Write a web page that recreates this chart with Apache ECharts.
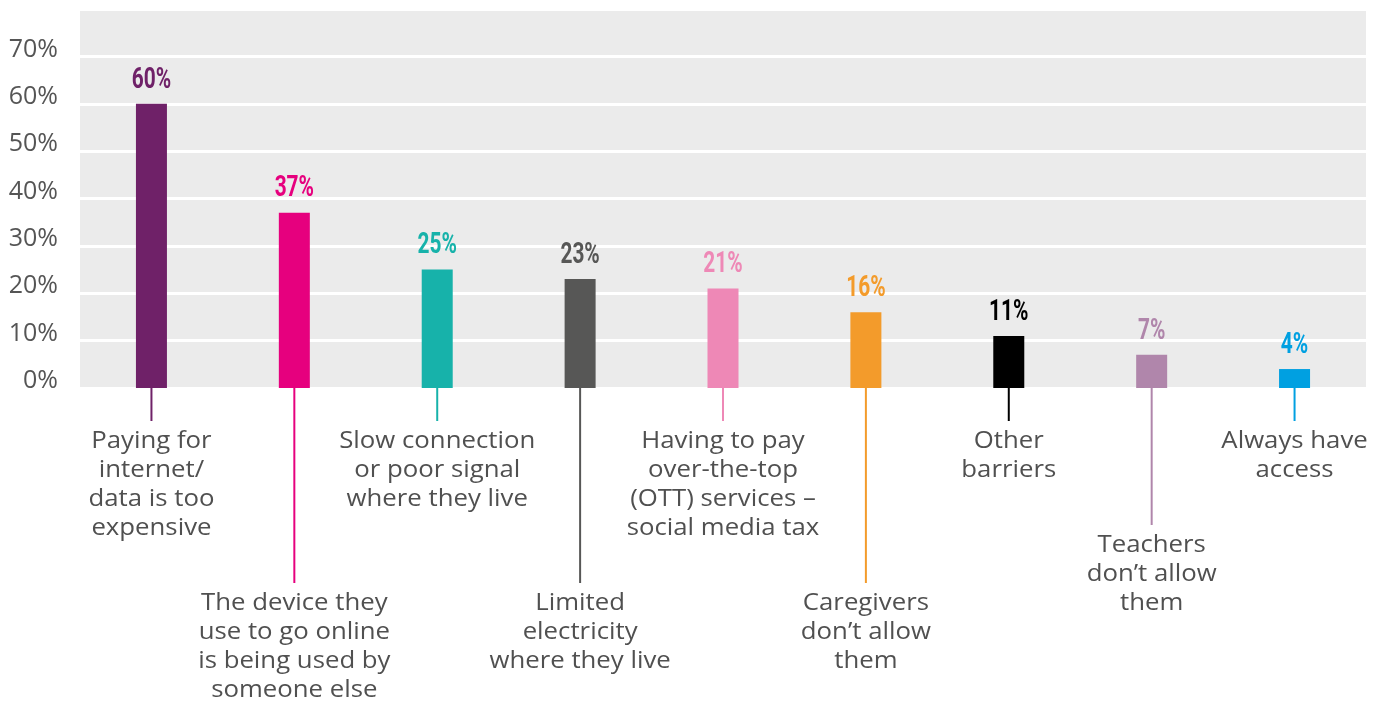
<!DOCTYPE html>
<html>
<head>
<meta charset="utf-8">
<title>Barriers to internet access</title>
<script src="https://cdn.jsdelivr.net/npm/echarts@6/dist/echarts.min.js"></script>
<style>
  html, body { margin: 0; padding: 0; background: #ffffff; }
  #chart { width: 1386px; height: 702px; }
</style>
</head>
<body>
<div id="chart"></div>
<script>
// data
const categories = [
  "Paying for\ninternet/\ndata is too\nexpensive",
  "The device they\nuse to go online\nis being used by\nsomeone else",
  "Slow connection\nor poor signal\nwhere they live",
  "Limited\nelectricity\nwhere they live",
  "Having to pay\nover-the-top\n(OTT) services –\nsocial media tax",
  "Caregivers\ndon’t allow\nthem",
  "Other\nbarriers",
  "Teachers\ndon’t allow\nthem",
  "Always have\naccess",
];
const values = [60, 37, 25, 23, 21, 16, 11, 7, 4];
const yTicks = [0, 10, 20, 30, 40, 50, 60, 70];

// style
const colors = ["#6f2168", "#e6007e", "#17b2aa", "#575756", "#ee88b6", "#f39b2b", "#000000", "#b086ab", "#00a0e1"];
const leaderLengths = [33, 195, 33, 195, 33, 195, 33, 137, 33];
const textFont = "'Open Sans', 'Noto Sans', sans-serif";

const chart = echarts.init(document.getElementById("chart"));

chart.setOption({
  animation: false,
  grid: {
    left: 80,
    right: 20,
    top: 9,
    bottom: 314,
    show: true,
    backgroundColor: "#ebebeb",
    borderWidth: 0,
  },
  xAxis: {
    type: "category",
    data: categories,
    axisLine: { show: false },
    axisTick: { show: false },
    axisLabel: { show: false },
  },
  yAxis: {
    type: "value",
    min: 0,
    max: 80,
    interval: 10,
    axisLine: { show: false },
    axisTick: { show: false },
    splitLine: { lineStyle: { color: "#ffffff", width: 3 } },
    axisLabel: {
      margin: 22,
      color: "#555555",
      fontFamily: textFont,
      fontSize: 25,
      verticalAlign: "bottom",
      lineHeight: 14,
      formatter: (v) => (yTicks.indexOf(v) >= 0 ? v + "%" : ""),
    },
  },
  series: [
    {
      type: "bar",
      barWidth: 31,
      data: values.map((v, i) => ({
        value: v,
        itemStyle: { color: colors[i] },
      })),
    },
    {
      // value labels, leader lines and category labels
      type: "custom",
      clip: false,
      data: categories.map((c, i) => [i]),
      encode: { x: 0 },
      renderItem: (params, api) => {
        const i = params.dataIndex;
        const p = api.coord([i, 0]);
        const top = api.coord([i, values[i]]);
        const yEnd = p[1] + leaderLengths[i];
        return {
          type: "group",
          children: [
            {
              type: "text",
              x: top[0],
              y: top[1] - 9,
              scaleX: 0.72,
              style: {
                text: values[i] + "%",
                align: "center",
                verticalAlign: "bottom",
                fontFamily: "Roboto, sans-serif",
                fontWeight: "bold",
                fontSize: 29,
                fill: colors[i],
              },
            },
            {
              type: "line",
              shape: { x1: p[0], y1: p[1], x2: p[0], y2: yEnd },
              style: { stroke: colors[i], lineWidth: 2 },
            },
            {
              type: "text",
              x: p[0],
              y: yEnd + 6,
              scaleX: 1.12,
              style: {
                text: categories[i],
                align: "center",
                verticalAlign: "top",
                fontFamily: textFont,
                fontSize: 23,
                lineHeight: 29,
                fill: "#505050",
              },
            },
          ],
        };
      },
    },
  ],
});
</script>
</body>
</html>
